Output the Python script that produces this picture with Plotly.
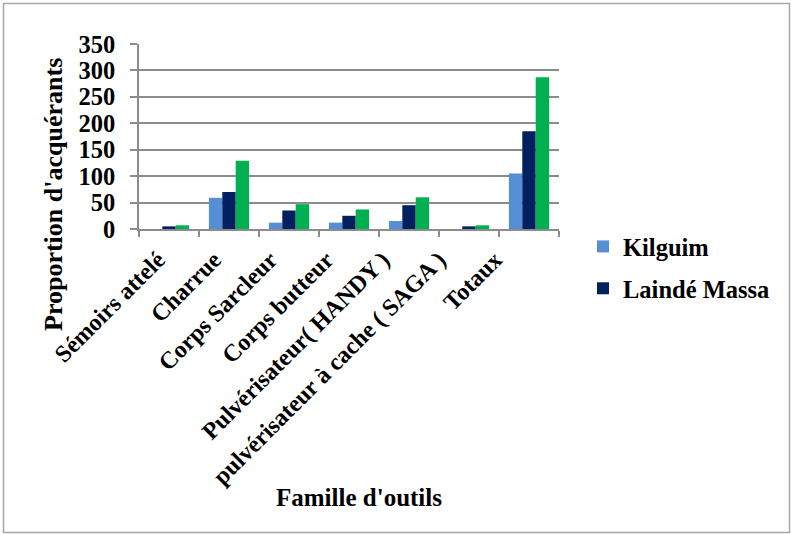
import plotly.graph_objects as go

categories = ["Sémoirs attelé", "Charrue", "Corps Sarcleur", "Corps butteur",
              "Pulvérisateur( HANDY )", "pulvérisateur à cache ( SAGA )", "Totaux"]
kilguim = [0, 59, 12, 12, 15, 0, 105]
lainde_massa = [5, 70, 35, 25, 45, 5, 185]
total = [7, 129, 47, 37, 60, 7, 287]
y_ticks = [0, 50, 100, 150, 200, 250, 300, 350]

FONT = "Liberation Serif"
GRID = "#8c8c8c"

fig = go.Figure()
fig.add_trace(go.Bar(x=categories, y=kilguim, name="Kilguim",
                     marker=dict(color="#558ED5", line=dict(width=0)), legendgroup="a"))
fig.add_trace(go.Bar(x=categories, y=lainde_massa, name="Laindé Massa",
                     marker=dict(color="#002060", line=dict(width=0)), legendgroup="b"))
fig.add_trace(go.Bar(x=categories, y=total, name="Total", showlegend=False,
                     marker=dict(color="#00B050", line=dict(width=0)), legendgroup="c"))
# empty helper trace so the label axis (x2) is rendered
fig.add_trace(go.Scatter(x=list(range(len(categories))), y=[None] * len(categories),
                         xaxis="x2", yaxis="y", mode="markers", showlegend=False,
                         hoverinfo="skip"))

L, R, T, B = 139, 232, 44, 305
W, H = 791, 534
pw, ph = W - L - R, H - T - B

def px2x(px):
    return (px - L) / pw

def py2y(py):
    return (H - B - py) / ph

# label axis: Excel places rotated labels slightly tighter than the bars
lab_step = 56.17
lab_first = 158.0
a = -(lab_first - L) / lab_step
b = a + pw / lab_step

fig.update_layout(
    width=W, height=H,
    margin=dict(l=L, r=R, t=T, b=B, autoexpand=False),
    paper_bgcolor="white", plot_bgcolor="white",
    barmode="group", bargap=0.33, bargroupgap=0,
    font=dict(family=FONT, color="black", size=22, weight="bold"),
    showlegend=True,
    legend=dict(x=px2x(583), y=py2y(224), xanchor="left", yanchor="top",
                font=dict(family=FONT, size=24.5, color="black", weight="bold"),
                tracegroupgap=7, itemwidth=30, bgcolor="rgba(0,0,0,0)"),
    xaxis=dict(type="category", showgrid=False, showline=True, linecolor=GRID, linewidth=1.5,
               ticks="outside", tickson="boundaries", ticklen=6, tickcolor=GRID, tickwidth=1.5,
               showticklabels=False, automargin=False),
    xaxis2=dict(overlaying="x", anchor="y", side="bottom", range=[a, b], type="linear",
                tickmode="array", tickvals=list(range(len(categories))), ticktext=categories,
                showgrid=False, showline=False, zeroline=False, ticks="",
                tickangle=-45, ticklabelstandoff=11,
                tickfont=dict(family=FONT, size=24, color="black", weight="bold"),
                automargin=False),
    yaxis=dict(range=[0, 350], tickvals=y_ticks, showgrid=True, gridcolor=GRID, gridwidth=1.5,
               showline=True, linecolor=GRID, linewidth=1.5, zeroline=False,
               ticks="outside", ticklen=7, tickcolor=GRID, tickwidth=1.5,
               tickfont=dict(family=FONT, size=24.5, color="black", weight="bold"),
               ticklabelstandoff=10, automargin=False),
    annotations=[
        dict(text="Famille d'outils", xref="paper", yref="paper",
             x=px2x(359), y=py2y(497), xanchor="center", yanchor="middle", showarrow=False,
             font=dict(family=FONT, size=25, color="black", weight="bold")),
        dict(text="Proportion d'acquérants", xref="paper", yref="paper",
             x=px2x(53), y=py2y(195), xanchor="center", yanchor="middle", showarrow=False,
             textangle=-90, font=dict(family=FONT, size=26, color="black", weight="bold")),
    ],
    shapes=[dict(type="rect", xref="paper", yref="paper",
                 x0=px2x(3.5), x1=px2x(789.5), y0=py2y(532.5), y1=py2y(3.5),
                 line=dict(color="#a6a6a6", width=1.5), fillcolor="rgba(0,0,0,0)", layer="below")],
)

fig.write_html("out.html")
